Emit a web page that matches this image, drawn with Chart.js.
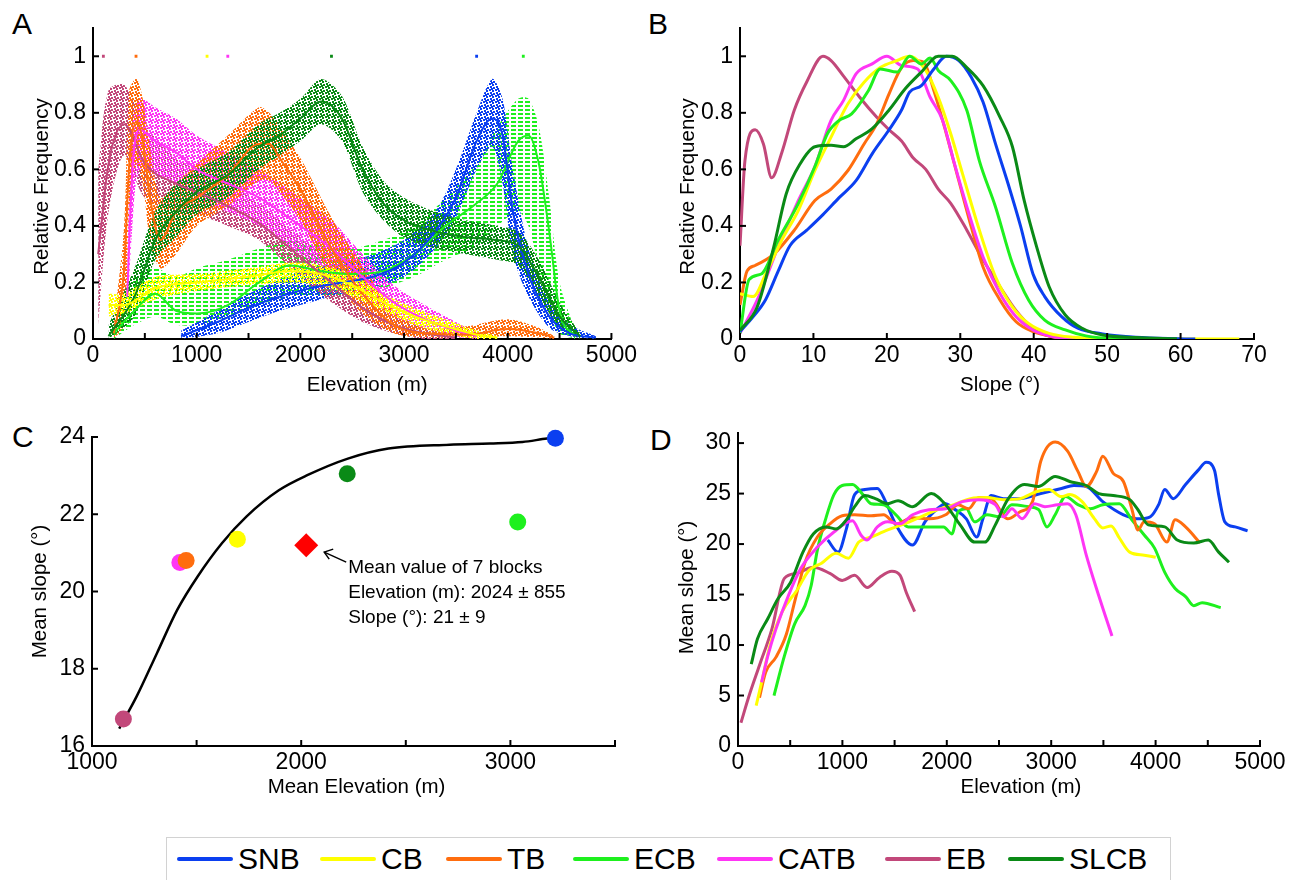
<!DOCTYPE html>
<html>
<head>
<meta charset="utf-8">
<script src="https://cdn.jsdelivr.net/npm/chart.js@4.4.0/dist/chart.umd.min.js"></script>
<style>
body { margin: 0; background: #fff; width: 1303px; height: 880px; position: relative; overflow: hidden; font-family: 'Liberation Sans', Arial, sans-serif; }
canvas { position: absolute; }
.tag { position: absolute; font-size: 30px; line-height: 30px; color: #000; }
#legend { position: absolute; left: 166px; top: 837px; width: 1005px; height: 60px; border: 1px solid #d2d2d2; box-sizing: border-box; }
.item { position: absolute; top: 4px; height: 34px; display: flex; align-items: center; font-size: 30px; }
.item span.ln { display: inline-block; width: 56px; height: 4px; border-radius: 2px; margin-right: 5px; }
</style>
</head>
<body>
<div class="tag" style="left:12px;top:9px">A</div>
<div class="tag" style="left:648px;top:9px">B</div>
<div class="tag" style="left:12px;top:422px">C</div>
<div class="tag" style="left:650px;top:425px">D</div>

<canvas id="chartA" width="640" height="400" style="left:0;top:0"></canvas>
<canvas id="chartB" width="663" height="400" style="left:640px;top:0"></canvas>
<canvas id="chartC" width="640" height="400" style="left:0;top:410px"></canvas>
<canvas id="chartD" width="653" height="400" style="left:650px;top:410px"></canvas>

<div id="legend"></div>

<script>
// block names and colours
const blocks = ['SNB', 'CB', 'TB', 'ECB', 'CATB', 'EB', 'SLCB']
const colors = {
    SNB: '#0b3ff0', CB: '#ffff00', TB: '#ff6d0e', ECB: '#1ef01e',
    CATB: '#ff35f5', EB: '#c2487a', SLCB: '#0a8a16'
}

// ---- panel A: elevation histograms (trend + spread of the point cloud)
const aSnbX = [850,1200,1500,1800,2100,2400,2700,3000,3300,3500,3700,3850,3950,4050,4200,4400,4600,4850]
const aSnbMid = [0.01,0.06,0.11,0.15,0.18,0.2,0.22,0.27,0.38,0.5,0.7,0.78,0.72,0.45,0.23,0.08,0.02,0.005]
const aSnbLo = [0,0.02,0.06,0.1,0.13,0.16,0.18,0.22,0.32,0.43,0.6,0.68,0.55,0.3,0.15,0.04,0.01,0]
const aSnbHi = [0.03,0.1,0.16,0.21,0.25,0.27,0.3,0.35,0.45,0.6,0.8,0.92,0.85,0.6,0.32,0.13,0.05,0.01]

const aCbX = [150,300,600,1000,1500,1900,2200,2500,2800,3100,3400,3700,3900]
const aCbMid = [0.12,0.12,0.18,0.2,0.22,0.24,0.23,0.19,0.13,0.08,0.045,0.015,0.005]
const aCbLo = [0.08,0.09,0.14,0.17,0.19,0.2,0.19,0.15,0.1,0.05,0.02,0,0]
const aCbHi = [0.16,0.16,0.22,0.23,0.25,0.27,0.26,0.23,0.16,0.11,0.07,0.03,0.01]

const aTbX = [200,300,350,420,480,550,650,800,1000,1300,1600,1700,1800,2000,2300,2600,2900,3200,3600,4000,4300,4450]
const aTbMid = [0.02,0.25,0.62,0.77,0.7,0.5,0.35,0.45,0.5,0.58,0.69,0.69,0.64,0.53,0.32,0.16,0.05,0.02,0.015,0.035,0.02,0.005]
const aTbLo = [0,0.05,0.45,0.62,0.55,0.35,0.25,0.3,0.4,0.47,0.56,0.56,0.52,0.42,0.22,0.09,0.02,0.005,0.005,0.01,0.005,0]
const aTbHi = [0.05,0.4,0.88,0.92,0.85,0.68,0.5,0.55,0.62,0.72,0.82,0.8,0.75,0.64,0.43,0.26,0.1,0.04,0.045,0.07,0.04,0.01]

const aEcbX = [200,400,600,800,1000,1300,1600,1900,2200,2500,2800,3100,3400,3700,3900,4100,4200,4300,4400,4500,4650]
const aEcbMid = [0.02,0.1,0.16,0.1,0.09,0.12,0.2,0.26,0.24,0.23,0.24,0.3,0.4,0.48,0.55,0.7,0.72,0.62,0.38,0.1,0.01]
const aEcbLo = [0,0.05,0.08,0.05,0.05,0.08,0.12,0.15,0.15,0.15,0.18,0.22,0.28,0.33,0.4,0.45,0.4,0.25,0.1,0.02,0]
const aEcbHi = [0.05,0.22,0.25,0.22,0.25,0.28,0.32,0.35,0.33,0.32,0.35,0.4,0.5,0.62,0.75,0.85,0.85,0.75,0.5,0.2,0.03]

const aCatbX = [330,380,450,600,800,1000,1300,1600,2000,2300,2600,2900,3200,3500,3700]
const aCatbMid = [0.15,0.6,0.74,0.7,0.66,0.6,0.55,0.5,0.4,0.32,0.22,0.13,0.07,0.03,0.01]
const aCatbLo = [0.05,0.4,0.6,0.58,0.55,0.5,0.45,0.4,0.3,0.24,0.15,0.08,0.04,0.01,0]
const aCatbHi = [0.3,0.75,0.85,0.82,0.78,0.72,0.66,0.6,0.5,0.42,0.3,0.19,0.12,0.06,0.02]

const aEbX = [50,150,300,500,800,1000,1300,1600,2000,2300,2600,2900,3200,3500]
const aEbMid = [0.3,0.62,0.76,0.62,0.55,0.52,0.47,0.41,0.29,0.2,0.11,0.05,0.02,0.005]
const aEbLo = [0.05,0.45,0.65,0.5,0.45,0.44,0.4,0.35,0.22,0.13,0.06,0.02,0,0]
const aEbHi = [0.6,0.88,0.9,0.76,0.64,0.6,0.55,0.48,0.36,0.27,0.17,0.09,0.04,0.01]

const aSlcbX = [150,400,600,800,1000,1300,1600,1800,2000,2200,2400,2600,2800,3000,3300,3600,3900,4100,4300,4500,4700]
const aSlcbMid = [0.01,0.15,0.35,0.45,0.52,0.58,0.68,0.72,0.78,0.84,0.78,0.6,0.48,0.42,0.38,0.36,0.35,0.33,0.22,0.08,0.01]
const aSlcbLo = [0,0.08,0.28,0.36,0.44,0.5,0.6,0.65,0.7,0.76,0.7,0.52,0.42,0.36,0.32,0.3,0.28,0.26,0.15,0.04,0]
const aSlcbHi = [0.05,0.25,0.45,0.55,0.6,0.66,0.76,0.8,0.85,0.92,0.86,0.68,0.56,0.5,0.45,0.42,0.4,0.38,0.28,0.13,0.02]

// single dots sitting at relative frequency 1
const aOutX = [100, 415, 1100, 1300, 2300, 3700, 4150]
const aOutY = [1, 1, 1, 1, 1, 1, 1]
const aOutBlock = ['EB', 'TB', 'CB', 'CATB', 'SLCB', 'SNB', 'ECB']

const aXTicks = [0,500,1000,1500,2000,2500,3000,3500,4000,4500,5000]
const freqTicks = [0,0.2,0.4,0.6,0.8,1]

// ---- panel B: slope histograms
const bSnbX = [0,1.8,3.5,5.2,6.8,9.1,11.3,13.5,15.8,18,20.3,22,23.1,24.7,26.4,28.1,29.8,31.5,33.1,34.8,36.5,38.2,39.9,41.5,43.8,46,49.4,53.9,59.5,62]
const bSnbY = [0.026,0.079,0.14,0.24,0.33,0.385,0.44,0.5,0.56,0.655,0.74,0.81,0.873,0.896,0.955,1,0.985,0.926,0.838,0.69,0.55,0.4,0.23,0.15,0.079,0.038,0.018,0.006,0.001,0]
const bCbX = [0,1.8,3.5,5.7,7.95,10.2,12.4,14.7,16.9,19.1,21.4,23.1,25.3,27,28.7,30.3,32.6,34.8,37.1,39.3,42.1,45.5,51.1,68]
const bCbY = [0.16,0.15,0.23,0.35,0.455,0.596,0.714,0.832,0.908,0.96,0.985,1,0.95,0.855,0.726,0.585,0.385,0.22,0.114,0.055,0.02,0.006,0.001,0]
const bTbX = [0,0.95,2.07,4.6,7.4,10.2,12.4,14.7,16.9,18.6,20.3,22,23.6,25,26.4,28.1,29.8,31.5,33.1,35.4,37.6,39.9,42.7,45.5,50]
const bTbY = [0.12,0.24,0.26,0.3,0.385,0.49,0.53,0.596,0.69,0.76,0.867,0.96,0.985,0.979,0.879,0.726,0.56,0.396,0.255,0.138,0.061,0.026,0.008,0.001,0]
const bEcbX = [0,1.23,2.9,5.2,7.95,10.2,11.9,13.5,15.2,17.5,19.1,21.4,23.1,24.7,25.9,27,28.7,30.9,32.6,34.8,37.1,39.3,41.5,44.3,47.1,51.1,60]
const bEcbY = [0.02,0.21,0.23,0.35,0.48,0.61,0.726,0.773,0.796,0.879,0.955,0.944,1,0.973,0.994,0.95,0.914,0.808,0.63,0.467,0.267,0.138,0.067,0.032,0.011,0.002,0]
const bCatbX = [0,2.35,5.2,7.95,10.2,12.4,14.1,15.8,18,20,22,24.2,25.9,27.6,29.2,30.9,33.1,35.4,37.6,39.9,42.7,46,50]
const bCatbY = [0.02,0.138,0.326,0.49,0.61,0.773,0.844,0.938,0.973,1,0.967,0.955,0.855,0.773,0.62,0.467,0.29,0.161,0.079,0.032,0.008,0.001,0]
const bEbX = [0,0.67,2.07,3.19,4.31,5.7,7.4,9.1,11.3,12.4,14.1,16.3,18.6,20.3,22,23.6,25.3,27,28.7,30.9,33.1,35.4,37.6,39.9,42.1,44.9,48.3]
const bEbY = [0.33,0.63,0.74,0.69,0.57,0.66,0.81,0.91,1,0.985,0.93,0.855,0.785,0.74,0.7,0.64,0.6,0.53,0.48,0.385,0.28,0.185,0.1,0.038,0.01,0.002,0]
const bSlcbX = [0,2.35,4.6,6.3,8.2,10.2,12.4,14.1,15.8,18,20.3,22.5,24.7,27,28.9,30.9,33.1,35.4,37.1,38.7,40.4,42.1,44.3,46.6,49.4,53.9,59.5]
const bSlcbY = [0.03,0.114,0.326,0.514,0.62,0.68,0.685,0.68,0.708,0.744,0.81,0.885,0.944,1,1,0.96,0.896,0.785,0.68,0.49,0.326,0.185,0.085,0.038,0.014,0.005,0.001]
const bXTicks = [0,10,20,30,40,50,60,70]

// ---- panel C: mean slope vs mean elevation
const cBlock = ['EB', 'CATB', 'TB', 'CB', 'SLCB', 'ECB', 'SNB']
const cElev = [1150, 1420, 1450, 1695, 2220, 3035, 3215]
const cSlope = [16.7, 20.75, 20.8, 21.35, 23.05, 21.8, 23.97]
const cMeanElev = [2024]
const cMeanSlope = [21.2]
const cFitX = [1130,1214,1311,1408,1505,1621,1738,1893,2029,2223,2417,2709,2903,3058,3175,3214]
const cFitY = [16.45,17.29,18.41,19.53,20.39,21.25,21.94,22.62,23.01,23.44,23.70,23.80,23.83,23.87,23.96,23.98]
const cXTicks = [1000,1500,2000,2500,3000,3500]
const cYTicks = [16,18,20,22,24]
const cNote = ['Mean value of 7 blocks', 'Elevation (m): 2024 \u00b1 855', 'Slope (\u00b0): 21 \u00b1 9']

// ---- panel D: mean slope per elevation band
const dSnbX = [860,959,1038,1117,1216,1335,1414,1513,1672,1791,1910,1989,2068,2187,2286,2346,2425,2544,2702,2900,3098,3217,3336,3494,3692,3851,3950,4029,4088,4168,4287,4406,4485,4564,4604,4663,4762,4881]
const dSnbY = [20.4,19.2,21.5,24.9,25.4,25.5,24.2,21.9,19.9,22.2,23.5,24.0,23.5,22.5,20.7,22.5,24.8,24.5,24.5,25.0,25.5,25.8,25.7,24.2,22.9,22.5,22.7,23.9,25.4,24.5,25.9,27.3,28.1,27.3,24.9,22.2,21.7,21.3]
const dCbX = [174,226,305,424,563,681,800,939,1058,1157,1276,1434,1593,1751,1910,2068,2227,2385,2544,2702,2861,2979,3098,3177,3296,3415,3494,3574,3653,3752,3891,4001]
const dCbY = [4.0,6.3,9.9,13.3,15.4,17.4,18.1,19.1,18.6,20.2,20.7,21.4,22.0,22.7,23.4,23.9,24.5,24.6,24.4,24.5,25.2,25.4,24.7,24.9,24.2,22.5,21.6,21.8,20.6,19.2,18.9,18.7]
const dTbX = [206,265,364,464,543,642,760,880,998,1117,1276,1394,1513,1672,1830,1989,2108,2207,2306,2425,2583,2702,2821,2900,3038,3157,3256,3336,3435,3494,3594,3692,3772,3831,3891,3990,4108,4187,4287,4426]
const dTbY = [4.8,7.3,8.8,11.1,14.3,18.2,20.7,22.0,22.8,22.9,22.8,22.9,22.0,22.6,22.5,22.9,23.9,23.5,24.6,24.5,22.5,23.2,24.2,28.2,30.1,29.2,27.2,25.7,27.2,28.7,27.0,26.2,23.5,21.4,22.2,22.0,20.2,22.4,21.7,20.1]
const dEcbX = [345,444,543,642,701,760,840,919,998,1097,1197,1276,1394,1513,1632,1791,1969,2049,2108,2187,2266,2385,2504,2623,2781,2880,2960,3038,3138,3256,3375,3494,3653,3772,3891,3990,4088,4187,4287,4366,4445,4624]
const dEcbY = [5.0,8.9,12.1,13.9,15.9,19.4,22.5,24.9,25.8,25.9,24.9,24.0,23.9,22.9,21.7,21.7,21.7,21.0,23.2,23.5,22.2,22.9,22.7,23.9,23.7,23.4,21.7,22.9,24.7,23.9,23.5,23.9,24.0,22.4,20.9,19.6,17.2,15.6,14.8,13.9,14.2,13.7]
const dCatbX = [226,285,364,483,602,760,919,1097,1177,1236,1335,1434,1553,1672,1830,1989,2148,2306,2465,2544,2623,2722,2841,2940,3059,3157,3236,3336,3455,3582]
const dCatbY = [6.3,8.9,11.6,14.9,17.6,19.7,21.2,22.3,20.9,20.4,21.7,22.2,22.0,22.9,23.4,23.5,24.2,24.4,23.9,22.7,23.5,22.5,24.0,23.7,23.9,24.0,22.9,18.9,14.9,10.9]
const dEbX = [28,107,206,325,444,563,721,880,998,1117,1236,1355,1474,1553,1612,1692]
const dEbY = [2.3,5.0,8.0,11.6,16.6,17.1,17.7,17.1,16.4,16.9,15.7,16.7,17.3,16.9,15.2,13.3]
const dSlcbX = [127,186,285,384,503,622,721,840,939,1038,1117,1216,1315,1434,1533,1672,1850,1989,2128,2266,2365,2465,2583,2742,2880,3038,3177,3336,3455,3594,3752,3831,3930,4088,4207,4366,4505,4604,4703]
const dSlcbY = [8.1,10.6,12.6,14.6,16.2,19.2,21.0,21.7,21.5,22.4,23.7,24.8,24.5,24.0,24.3,23.7,25.0,23.9,21.9,20.2,20.2,21.9,24.4,25.9,25.7,26.7,26.2,25.8,25.0,24.8,24.4,23.4,21.9,21.7,20.4,20.1,20.4,19.2,18.2]
const dYTicks = [0,5,10,15,20,25,30]


const FONT = "'Liberation Sans', Arial, sans-serif"
const pts = (xs, ys) => xs.map((x, i) => ({ x: x, y: ys[i] }))

// little tick marks pointing into the plot
const inwardTicks = {
    id: 'inwardTicks',
    afterDraw(chart) {
        const ctx = chart.ctx
        const sx = chart.scales.x, sy = chart.scales.y
        ctx.save()
        ctx.strokeStyle = '#000'
        ctx.lineWidth = 2
        sx.ticks.forEach(t => {
            const p = sx.getPixelForValue(t.value)
            ctx.beginPath(); ctx.moveTo(p, sx.top); ctx.lineTo(p, sx.top - 6); ctx.stroke()
        })
        sy.ticks.forEach(t => {
            const p = sy.getPixelForValue(t.value)
            ctx.beginPath(); ctx.moveTo(sy.right, p); ctx.lineTo(sy.right + 6, p); ctx.stroke()
        })
        ctx.restore()
    }
}

// axis titles, placed where the figure has them
const axisTitles = {
    id: 'axisTitles',
    afterDraw(chart, args, o) {
        const ctx = chart.ctx, a = chart.chartArea
        ctx.save()
        ctx.fillStyle = '#000'
        ctx.font = '20.5px ' + FONT
        ctx.textAlign = 'center'
        ctx.textBaseline = 'middle'
        ctx.fillText(o.x, (a.left + a.right) / 2 + o.dx, o.xy)
        ctx.translate(o.yx, (a.top + a.bottom) / 2 + o.dy)
        ctx.rotate(-Math.PI / 2)
        ctx.fillText(o.y, 0, 0)
        ctx.restore()
    }
}

function makeAxis(opts) {
    return {
        type: 'linear',
        min: opts.min,
        max: opts.max,
        afterFit: s => { if (opts.horiz) s.height = opts.size; else s.width = opts.size },
        afterBuildTicks: s => { s.ticks = opts.ticks.map(v => ({ value: v })) },
        grid: { display: true, drawOnChartArea: false, drawTicks: false },
        border: { display: true, color: '#000', width: 2 },
        ticks: {
            autoSkip: false, maxRotation: 0, color: '#000', padding: opts.horiz ? 3 : 7,
            font: { family: FONT, size: 23 },
            callback: opts.label || (v => String(v))
        },
        title: { display: false }
    }
}

function baseOptions(pad, xAxis, yAxis, titles) {
    return {
        responsive: false,
        animation: false,
        events: [],
        layout: { padding: pad },
        plugins: { legend: { display: false }, tooltip: { enabled: false }, axisTitles: titles },
        scales: { x: xAxis, y: yAxis }
    }
}

const thousands = v => (v % 1000 === 0 ? String(v) : '')

// dotted fill that imitates the scatter of single cells
const dotSpots = [[0, 0], [3, 1], [1, 3], [4, 4], [2, 5] ]
function dotPattern(color, ox, oy, dash) {
    const tile = document.createElement('canvas')
    tile.width = dash ? 7 : 6
    tile.height = dash ? 4 : 6
    const t = tile.getContext('2d')
    t.fillStyle = color
    if (dash) {
        t.fillRect(0, oy, 5, 2)
    } else {
        dotSpots.forEach(d => {
            const px = (d[0] + ox) % 6, py = (d[1] + oy) % 6
            ;[[0, 0], [-6, 0], [0, -6], [-6, -6]].forEach(w => t.fillRect(px + w[0], py + w[1], 2, 2))
        })
    }
    return t.createPattern(tile, 'repeat')
}

// ---------------- Panel A
const aSeries = [
    { b: 'CB', x: aCbX, mid: aCbMid, lo: aCbLo, hi: aCbHi, off: [0, 0] },
    { b: 'SLCB', x: aSlcbX, mid: aSlcbMid, lo: aSlcbLo, hi: aSlcbHi, off: [1, 2] },
    { b: 'TB', x: aTbX, mid: aTbMid, lo: aTbLo, hi: aTbHi, off: [2, 4] },
    { b: 'CATB', x: aCatbX, mid: aCatbMid, lo: aCatbLo, hi: aCatbHi, off: [4, 1] },
    { b: 'EB', x: aEbX, mid: aEbMid, lo: aEbLo, hi: aEbHi, off: [5, 3] },
    { b: 'SNB', x: aSnbX, mid: aSnbMid, lo: aSnbLo, hi: aSnbHi, off: [3, 5] },
    { b: 'ECB', x: aEcbX, mid: aEcbMid, lo: aEcbLo, hi: aEcbHi, off: [0, 1], dash: true }
]

const aData = []
aSeries.forEach((s, k) => {
    aData.push({
        data: pts(s.x, s.mid), borderColor: colors[s.b], borderWidth: 2,
        pointRadius: 0, fill: false, cubicInterpolationMode: 'monotone', order: k
    })
})
aSeries.forEach((s, k) => {
    const loIndex = aData.length
    aData.push({
        data: pts(s.x, s.lo), borderWidth: 0, borderColor: 'rgba(0,0,0,0)',
        pointRadius: 0, fill: false, tension: 0.3, order: 20 + k
    })
    const pat = dotPattern(colors[s.b], s.off[0], s.off[1], s.dash)
    aData.push({
        data: pts(s.x, s.hi), borderWidth: 0, borderColor: 'rgba(0,0,0,0)',
        pointRadius: 0, tension: 0.3, order: 20 + k,
        fill: { target: loIndex, above: pat, below: pat }, backgroundColor: pat
    })
})
aData.push({
    data: pts(aOutX, aOutY), showLine: false, pointRadius: 2, pointStyle: 'rect',
    backgroundColor: aOutBlock.map(b => colors[b]), borderWidth: 0, order: 50
})

new Chart(document.getElementById('chartA'), {
    type: 'line',
    data: { datasets: aData },
    options: baseOptions({ top: 28, right: 24, left: 0, bottom: 0 },
        makeAxis({ horiz: true, min: 0, max: 5000, ticks: aXTicks, label: thousands, size: 61 }),
        makeAxis({ min: 0, max: 1.1, ticks: freqTicks, size: 93 }),
        { x: 'Elevation (m)', dx: 15, xy: 385, y: 'Relative Frequency', yx: 42, dy: 3 }),
    plugins: [inwardTicks, axisTitles]
})

// ---------------- Panel B
const bSeries = [
    ['SLCB', bSlcbX, bSlcbY], ['SNB', bSnbX, bSnbY], ['ECB', bEcbX, bEcbY], ['CB', bCbX, bCbY],
    ['CATB', bCatbX, bCatbY], ['TB', bTbX, bTbY], ['EB', bEbX, bEbY]
]
new Chart(document.getElementById('chartB'), {
    type: 'line',
    data: {
        datasets: bSeries.map(s => ({
            data: pts(s[1], s[2]), borderColor: colors[s[0]], borderWidth: 3,
            pointRadius: 0, fill: false, cubicInterpolationMode: 'monotone'
        }))
    },
    options: baseOptions({ top: 28, right: 49, left: 0, bottom: 0 },
        makeAxis({ horiz: true, min: 0, max: 70, ticks: bXTicks, size: 61 }),
        makeAxis({ min: 0, max: 1.1, ticks: freqTicks, size: 100 }),
        { x: 'Slope (\u00b0)', dx: 3, xy: 385, y: 'Relative Frequency', yx: 48, dy: 3 }),
    plugins: [inwardTicks, axisTitles]
})

// ---------------- Panel C
const noteC = {
    id: 'noteC',
    afterDatasetsDraw(chart) {
        const p = chart.getDatasetMeta(2).data[0]
        const ctx = chart.ctx
        ctx.save()
        ctx.strokeStyle = '#000'
        ctx.lineWidth = 1.5
        const tx = p.x + 18, ty = p.y + 7
        ctx.beginPath(); ctx.moveTo(p.x + 40, p.y + 17); ctx.lineTo(tx, ty); ctx.stroke()
        ctx.beginPath()
        ctx.moveTo(tx + 9, ty - 3); ctx.lineTo(tx, ty); ctx.lineTo(tx + 5, ty + 7)
        ctx.stroke()
        ctx.fillStyle = '#000'
        ctx.font = '19px ' + FONT
        ctx.textBaseline = 'alphabetic'
        cNote.forEach((line, i) => ctx.fillText(line, p.x + 42, p.y + 28 + i * 25))
        ctx.restore()
    }
}
new Chart(document.getElementById('chartC'), {
    type: 'line',
    data: {
        datasets: [
            { data: pts(cFitX, cFitY), borderColor: '#000', borderWidth: 2.5, pointRadius: 0,
              fill: false, cubicInterpolationMode: 'monotone', clip: false, order: 3 },
            { data: pts(cElev, cSlope), showLine: false, pointRadius: 8.5, pointStyle: 'circle',
              backgroundColor: cBlock.map(b => colors[b]), borderWidth: 0, clip: false, order: 1 },
            { data: pts(cMeanElev, cMeanSlope), showLine: false, pointRadius: 12, pointStyle: 'rectRot',
              backgroundColor: '#ff0000', borderWidth: 0, clip: false, order: 2 }
        ]
    },
    options: baseOptions({ top: 27, right: 25, left: 0, bottom: 0 },
        makeAxis({ horiz: true, min: 1000, max: 3500, ticks: cXTicks, label: thousands, size: 64 }),
        makeAxis({ min: 16, max: 24, ticks: cYTicks, size: 92 }),
        { x: 'Mean Elevation (m)', dx: 3, xy: 377, y: 'Mean slope (\u00b0)', yx: 40, dy: 0 }),
    plugins: [inwardTicks, noteC, axisTitles]
})

// ---------------- Panel D
const dSeries = [
    ['SLCB', dSlcbX, dSlcbY], ['CATB', dCatbX, dCatbY], ['CB', dCbX, dCbY], ['TB', dTbX, dTbY],
    ['ECB', dEcbX, dEcbY], ['SNB', dSnbX, dSnbY], ['EB', dEbX, dEbY]
]
new Chart(document.getElementById('chartD'), {
    type: 'line',
    data: {
        datasets: dSeries.map(s => ({
            data: pts(s[1], s[2]), borderColor: colors[s[0]], borderWidth: 3,
            pointRadius: 0, fill: false, cubicInterpolationMode: 'monotone'
        }))
    },
    options: baseOptions({ top: 23, right: 43, left: 0, bottom: 0 },
        makeAxis({ horiz: true, min: 0, max: 5000, ticks: aXTicks, label: thousands, size: 64 }),
        makeAxis({ min: 0, max: 31, ticks: dYTicks, size: 88 }),
        { x: 'Elevation (m)', dx: 22, xy: 377, y: 'Mean slope (\u00b0)', yx: 37, dy: -2 }),
    plugins: [inwardTicks, axisTitles]
})

// ---------------- shared legend
const legendX = [10, 153, 279, 406, 550, 718, 841]
const legend = document.getElementById('legend')
blocks.forEach((b, i) => {
    const it = document.createElement('div')
    it.className = 'item'
    it.style.left = legendX[i] + 'px'
    it.innerHTML = '<span class="ln" style="background:' + colors[b] + '"></span>' + b
    legend.appendChild(it)
})
</script>
</body>
</html>
